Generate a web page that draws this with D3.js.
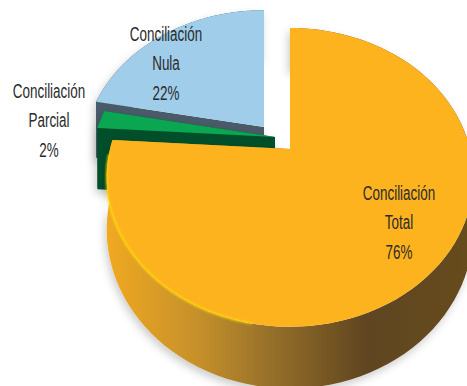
<!DOCTYPE html>
<html>
<head>
<meta charset="utf-8">
<script src="https://cdn.jsdelivr.net/npm/d3@7"></script>
<style>
  html, body { margin: 0; padding: 0; background: white; overflow: hidden; }
  svg { display: block; }
  text { font-family: "Liberation Sans", sans-serif; fill: #2b2b2b; }
</style>
</head>
<body>
<svg id="chart" width="467" height="386"></svg>
<script>
//chart data
const categories = ["Conciliación Total", "Conciliación Parcial", "Conciliación Nula"];
const labelLines = [["Conciliación", "Total", "76%"], ["Conciliación", "Parcial", "2%"], ["Conciliación", "Nula", "22%"]];
const shares = [76, 2, 22];

//look of each slice (same order as categories)
const topColors = ["#fdb31e", "#0aa651", "#9fcdea"];
const sideColors = ["url(#yellowSide)", "#00502a", "#4a5a68"];
const apexes = [[290, 149], [275, 137], [264, 127]];
const radiusX = [180, 180, 177];
const radiusY = [144, 144, 139];
const depths = [50, 62, 58];
const labelPos = [[399, 200], [49, 98], [166, 41]];

const PERSPECTIVE = 0.19; //how much nearer parts of the pie grow
const LINE_GAP = [0, 29, 59];

const svg = d3.select("#chart");
const defs = svg.append("defs");

//side of the big slice goes from light on the left to dark on the right
const grad = defs.append("linearGradient")
    .attr("id", "yellowSide")
    .attr("gradientUnits", "userSpaceOnUse")
    .attr("x1", 107).attr("x2", 467).attr("y1", 0).attr("y2", 0);
[[0, "#f0a921"], [0.26, "#c48f2c"], [0.45, "#97712a"], [0.72, "#5f4520"], [1, "#664c1f"]].forEach(s => {
    grad.append("stop").attr("offset", s[0]).attr("stop-color", s[1]);
});

const shadow = defs.append("filter").attr("id", "softShadow")
    .attr("x", "-15%").attr("y", "-15%").attr("width", "130%").attr("height", "130%");
shadow.append("feDropShadow")
    .attr("dx", -2).attr("dy", 4).attr("stdDeviation", 4)
    .attr("flood-color", "#000").attr("flood-opacity", 0.2);

defs.append("filter").attr("id", "soft").append("feGaussianBlur").attr("stdDeviation", 0.8);

const pie = d3.pie().sort(null).value(d => d);
const arcs = pie(shares);

//project a point of the flat pie (angle clockwise from 12 o'clock) to the screen
function project(i, angle, radius, drop) {
    const u = Math.sin(angle) * radius;
    const v = -Math.cos(angle) * radius;
    const w = 1 - PERSPECTIVE * v;
    return [
        apexes[i][0] + radiusX[i] * u / w,
        apexes[i][1] + radiusY[i] * v / w + drop / w
    ];
}

function rimPoints(i, a0, a1, drop) {
    return d3.range(0, 101).map(k => project(i, a0 + (a1 - a0) * k / 100, 1, drop));
}

const line = d3.line();

function drawSlice(i) {
    const a = arcs[i];
    const g = svg.append("g");
    const depth = depths[i];
    const outer = rimPoints(i, a.startAngle, a.endAngle, 0);
    const outerLow = rimPoints(i, a.startAngle, a.endAngle, depth);
    const apex = project(i, 0, 0, 0);
    const apexLow = project(i, 0, 0, depth);

    //side walls: cut faces and outer rim
    const walls = [
        [apex, outer[0], outerLow[0], apexLow],
        [apex, outer[100], outerLow[100], apexLow],
        outer.concat(outerLow.slice().reverse())
    ];
    g.append("g")
        .attr("filter", "url(#softShadow)")
        .selectAll("path")
        .data(walls)
        .join("path")
        .attr("d", d => line(d) + "Z")
        .attr("fill", sideColors[i]);

    //top face
    g.append("path")
        .attr("d", line([apex].concat(outer)) + "Z")
        .attr("fill", topColors[i]);
}

//back to front
drawSlice(2);
drawSlice(1);
drawSlice(0);

//bright edge on the front left of the big slice
const rimStart = 190 * Math.PI / 180;
const rimEnd = 268 * Math.PI / 180;
svg.append("path")
    .attr("d", line(rimPoints(0, rimStart, rimEnd, 0)))
    .attr("fill", "none")
    .attr("stroke", "#ffdc05")
    .attr("stroke-width", 1.6)
    .attr("filter", "url(#soft)");

//labels, squeezed because no condensed font is installed
labelLines.forEach((lines, i) => {
    svg.append("g")
        .attr("aria-label", categories[i])
        .selectAll("text")
        .data(lines)
        .join("text")
        .attr("transform", (d, k) => `translate(${labelPos[i][0]},${labelPos[i][1] + LINE_GAP[k]}) scale(0.8,1.25)`)
        .attr("text-anchor", "middle")
        .style("font-size", "16.8px")
        .text(d => d);
});
</script>
</body>
</html>
